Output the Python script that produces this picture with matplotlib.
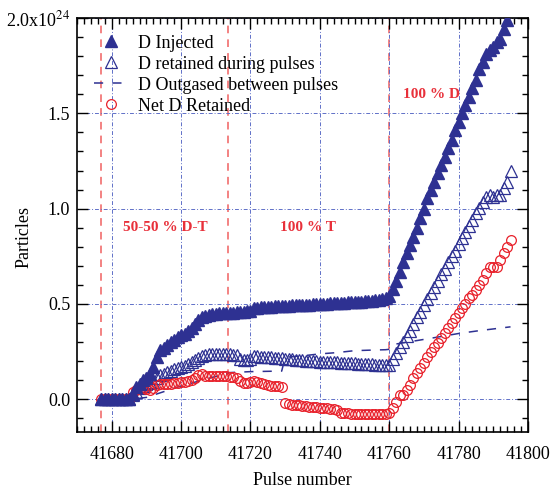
import matplotlib
matplotlib.use('Agg')
import matplotlib.pyplot as plt
from matplotlib.ticker import MultipleLocator, FixedLocator

plt.rcParams['font.family'] = ['Liberation Serif', 'DejaVu Serif']
plt.rcParams['mathtext.fontset'] = 'stix'

# pulse numbers
pulses = list(range(41677, 41796))

# D injected (x10^24), pulses 41677..41794
d_injected = [0, 0, 0, 0, 0, 0, 0, 0, 0,
              0.03, 0.066, 0.08, 0.10, 0.11, 0.13, 0.17, 0.22, 0.26, 0.27,
              0.285, 0.30, 0.31, 0.325, 0.335, 0.345, 0.36, 0.375, 0.395, 0.415,
              0.43, 0.435, 0.44, 0.445, 0.445, 0.45, 0.45, 0.455, 0.455, 0.455,
              0.458, 0.46, 0.46, 0.462, 0.465, 0.48,
              0.481, 0.482, 0.483, 0.485, 0.486, 0.487, 0.488, 0.489, 0.49, 0.491,
              0.492, 0.493, 0.494, 0.495, 0.496, 0.497, 0.498, 0.499, 0.5, 0.501,
              0.502, 0.503, 0.504, 0.505, 0.506, 0.507, 0.508, 0.509, 0.51, 0.511,
              0.512, 0.514, 0.516, 0.518, 0.52, 0.523, 0.527, 0.53,
              0.54, 0.58, 0.62, 0.67, 0.72, 0.766, 0.81, 0.853, 0.897, 0.95,
              1.0, 1.055, 1.098, 1.14, 1.186, 1.23, 1.27, 1.317, 1.36, 1.413,
              1.457, 1.5, 1.544, 1.588, 1.632, 1.676, 1.73, 1.77, 1.81, 1.83,
              1.85, 1.875, 1.89, 1.94, 1.99]

# D retained during pulses, pulses 41677..41795
d_retained = [0, 0, 0, 0, 0, 0, 0, 0, 0,
              0.02, 0.04, 0.06, 0.07, 0.08, 0.085, 0.09, 0.11, 0.125, 0.135,
              0.145, 0.15, 0.16, 0.165, 0.17, 0.175, 0.185, 0.195, 0.205, 0.215,
              0.225, 0.232, 0.238, 0.238, 0.236, 0.237, 0.238, 0.237, 0.235, 0.233,
              0.232, 0.21, 0.205, 0.205, 0.21, 0.225, 0.226, 0.224, 0.222, 0.222,
              0.22, 0.218, 0.216, 0.214, 0.212,
              0.21, 0.209, 0.208, 0.206, 0.205, 0.203, 0.202, 0.2, 0.199, 0.198,
              0.197, 0.196, 0.195, 0.194, 0.193, 0.192, 0.191, 0.19, 0.189, 0.188,
              0.187, 0.186, 0.185, 0.184, 0.183, 0.182, 0.182, 0.181, 0.18,
              0.18, 0.21, 0.245, 0.275, 0.3, 0.33, 0.36, 0.395, 0.43, 0.46,
              0.495, 0.525, 0.555, 0.59, 0.62, 0.655, 0.685, 0.72, 0.75, 0.78,
              0.815, 0.845, 0.88, 0.91, 0.94, 0.975, 1.005, 1.035, 1.063, 1.07,
              1.063, 1.07, 1.07, 1.107, 1.14, 1.2]

# D outgased between pulses (cumulative)
outgas_pulses = [41677, 41686, 41690, 41695, 41700, 41706, 41710, 41714, 41720,
                 41729, 41730, 41735, 41740, 41745, 41750, 41755, 41759, 41760,
                 41762, 41767, 41772, 41780, 41786, 41795]
d_outgas = [0, 0, 0.01, 0.04, 0.07, 0.1, 0.12, 0.14, 0.145,
            0.148, 0.22, 0.228, 0.238, 0.245, 0.255, 0.258, 0.26, 0.262,
            0.29, 0.305, 0.32, 0.345, 0.36, 0.38]

# Net D retained, pulses 41677..41795
net_retained = [0, 0, 0, 0, 0, 0, 0, 0, 0,
                0.04, 0.05, 0.06, 0.06, 0.055, 0.05, 0.06, 0.075, 0.08, 0.08,
                0.08, 0.08, 0.085, 0.085, 0.09, 0.092, 0.095, 0.1, 0.11, 0.125,
                0.13, 0.122, 0.12, 0.12, 0.12, 0.12, 0.12, 0.12, 0.118, 0.115,
                0.11, 0.095, 0.084, 0.084, 0.09, 0.095, 0.092, 0.088, 0.08, 0.075,
                0.072, 0.07, 0.068, 0.066,
                -0.021, -0.025, -0.028, -0.03, -0.032, -0.035, -0.037, -0.039, -0.04, -0.042,
                -0.044, -0.046, -0.047, -0.05, -0.052, -0.056, -0.07, -0.072, -0.073, -0.075,
                -0.076, -0.077, -0.077, -0.078, -0.078, -0.077, -0.077, -0.078, -0.077, -0.076,
                -0.073, -0.047, -0.012, 0.023, 0.023, 0.049, 0.075, 0.11, 0.136, 0.163,
                0.189, 0.22, 0.25, 0.276, 0.294, 0.32, 0.346, 0.372, 0.4, 0.425,
                0.45, 0.477, 0.5, 0.53, 0.547, 0.573, 0.6, 0.626, 0.66, 0.696,
                0.696, 0.696, 0.73, 0.766, 0.8, 0.836]

# campaign boundaries and labels
boundaries = [41677, 41713.5, 41760]
phase_labels = ['50-50 % D-T', '100 % T', '100 % D']
phase_x = [41695.3, 41736.5, 41772.3]
phase_y = [0.9, 0.9, 1.6]

navy = '#2e3192'
red = '#e8202a'

fig = plt.figure(figsize=(5.51, 4.88), dpi=100)
ax = fig.add_axes([0.140, 0.1154, 0.818, 0.8477])

for b in boundaries:
    ax.axvline(b, color='#f06060', lw=1.1, ls=(0, (5, 4)), zorder=1)

ax.plot(pulses[:len(d_injected)], d_injected, ls='none', marker='^', ms=8,
        color=navy, label='D Injected', zorder=4)
ax.plot(pulses, d_retained, ls='none', marker='^', ms=8, mfc='none',
        mec=navy, mew=0.9, label='D retained during pulses', zorder=3)
ax.plot(outgas_pulses, d_outgas, ls=(0, (6, 6)), lw=1.1, color=navy,
        label='D Outgased between pulses', zorder=3)
ax.plot(pulses, net_retained, ls='none', marker='o', ms=7, mfc='none',
        mec=red, mew=0.9, label='Net D Retained', zorder=3)

for lab, x, y in zip(phase_labels, phase_x, phase_y):
    ax.text(x, y, lab, color='#e8303a', fontsize=11, fontweight='bold',
            ha='center', va='center')

ax.set_xlim(41670, 41800)
ax.set_ylim(-0.17, 2.0)
ax.xaxis.set_major_locator(MultipleLocator(20))
ax.xaxis.set_minor_locator(MultipleLocator(2))
ax.yaxis.set_major_locator(FixedLocator([0, 0.5, 1.0, 1.5, 2.0]))
ax.yaxis.set_minor_locator(MultipleLocator(0.1))
ax.set_yticklabels(['0.0', '0.5', '1.0', '1.5', r'2.0x10$^{24}$'])
ax.tick_params(which='both', direction='in', top=True, right=True,
               labelsize=13, width=1)
ax.tick_params(which='major', length=8)
ax.tick_params(which='minor', length=4.5)
ax.tick_params(axis='x', pad=10)
ax.tick_params(axis='y', pad=5)
ax.grid(which='major', color='#6070c8', ls=(0, (4, 2, 1, 2)), lw=0.7)
for s in ax.spines.values():
    s.set_linewidth(1.2)

ax.set_xlabel('Pulse number', fontsize=13, labelpad=7)
ax.set_ylabel('Particles', fontsize=13)
ax.yaxis.set_label_coords(-0.10, 0.47)

ax.legend(loc='upper left', bbox_to_anchor=(0.01, 0.99), frameon=False,
          fontsize=13, handlelength=1.8, handletextpad=0.6,
          labelspacing=0.22, borderaxespad=0.3)

fig.savefig('out.png', dpi=100)
